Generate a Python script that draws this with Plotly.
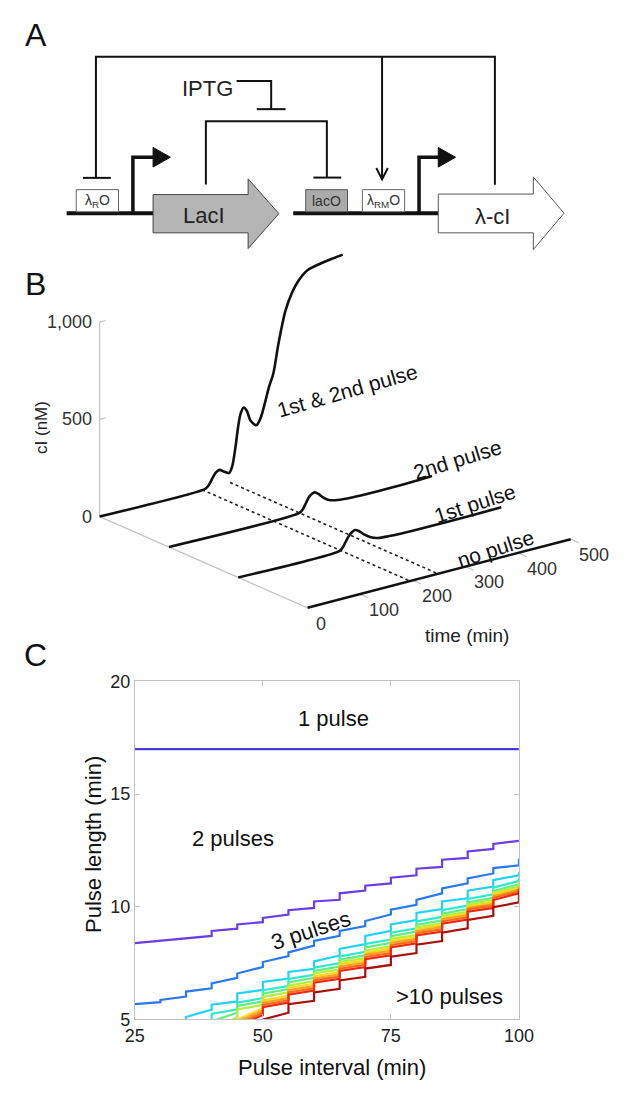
import plotly.graph_objects as go

W, H = 628, 1093
FONT = "Liberation Sans, Arial, Helvetica, sans-serif"

# ---------------- Panel B data (time in min, cI in nM) ----------------
b_labels = ["1st & 2nd pulse", "2nd pulse", "1st pulse", "no pulse"]
t_both = [0, 200, 205, 210, 215, 220, 228, 236, 246, 252, 258, 263, 268, 274, 280, 287, 298, 306,
          314, 322, 330, 340, 353, 365, 377, 395, 420, 445, 462]
c_both = [0, 0, 8, 25, 48, 68, 79, 65, 50, 80, 170, 270, 340, 367, 345, 290, 259, 290,
          360, 440, 500, 650, 807, 890, 943, 988, 1005, 1015, 1021]
t_second = [0, 248, 254, 260, 266, 272, 277, 284, 292, 302, 315, 330, 350, 380, 420, 460, 500]
c_second = [0, 0, 12, 40, 68, 82, 85, 72, 50, 30, 18, 12, 8, 6, 6, 8, 12]
t_first = [0, 192, 198, 204, 210, 216, 222, 230, 240, 252, 266, 285, 310, 350, 400, 450, 500]
c_first = [0, 0, 12, 38, 64, 80, 87, 75, 50, 28, 15, 10, 7, 5, 5, 6, 8]
t_none = [0, 500]
c_none = [0, 0]
pulse_times = [195, 248]
b_time_ticks = [0, 100, 200, 300, 400, 500]
b_ci_ticks = [0, 500, 1000]
b_ci_ticklabels = ["0", "500", "1,000"]

# ---------------- Panel C data: boundary lines (x: pulse interval, y: pulse length) ----------------
# each entry: (pulse interval, length before step, length after step)
c_line1 = [(25, 17.0, 17.0), (100, 17.0, 17.0)]
c_line2 = [(25, 8.39, 8.39), (40, 8.71, 8.93), (45, 9.03, 9.22), (50, 9.32, 9.51), (55, 9.66, 9.85),
           (60, 9.95, 10.24), (65, 10.31, 10.6), (70, 10.72, 10.94), (75, 11.04, 11.29),
           (80, 11.4, 11.69), (85, 11.77, 12.09), (90, 12.17, 12.46), (95, 12.57, 12.79),
           (100, 12.93, 12.93)]
c_line3 = [(25, 5.68, 5.68), (30, 5.77, 5.87), (35, 6.02, 6.24), (40, 6.38, 6.60), (45, 6.85, 7.04),
           (50, 7.33, 7.55), (55, 7.81, 7.98), (60, 8.28, 8.49), (65, 8.71, 8.93), (70, 9.15, 9.37),
           (75, 9.66, 9.87), (80, 10.09, 10.31), (85, 10.6, 10.82), (90, 11.04, 11.26),
           (95, 11.48, 11.72), (100, 11.84, 12.13)]
c_line4 = [(35, 5.0, 5.11), (40, 5.44, 5.66), (45, 5.80, 6.16), (50, 6.31, 6.67), (55, 6.82, 7.11),
           (60, 7.25, 7.58), (65, 7.84, 8.13), (70, 8.35, 8.71), (75, 8.93, 9.22), (80, 9.41, 9.73),
           (85, 9.90, 10.24), (90, 10.38, 10.72), (95, 10.90, 11.18), (100, 11.40, 11.55)]
c_line5 = [(40, 5.0, 5.25), (45, 5.45, 5.75), (50, 5.95, 6.3), (55, 6.48, 6.8), (60, 6.98, 7.3),
           (65, 7.5, 7.8), (70, 8.0, 8.35), (75, 8.55, 8.85), (80, 9.05, 9.35), (85, 9.55, 9.85),
           (90, 10.05, 10.35), (95, 10.55, 10.85), (100, 11.15, 11.3)]
c_line6 = [(41, 5.0, 5.0), (45, 5.3, 5.6), (50, 5.8, 6.15), (55, 6.35, 6.65), (60, 6.85, 7.15),
           (65, 7.35, 7.65), (70, 7.85, 8.2), (75, 8.4, 8.7), (80, 8.9, 9.2), (85, 9.4, 9.7),
           (90, 9.9, 10.2), (95, 10.4, 10.7), (100, 11.0, 11.2)]
c_line7 = [(44, 5.0, 5.0), (45, 5.1, 5.45), (50, 5.65, 6.0), (55, 6.2, 6.5), (60, 6.7, 7.05),
           (65, 7.22, 7.55), (70, 7.72, 8.05), (75, 8.25, 8.58), (80, 8.75, 9.08), (85, 9.28, 9.6),
           (90, 9.78, 10.1), (95, 10.3, 10.62), (100, 10.9, 11.1)]
c_line8 = [(45, 5.0, 5.0), (50, 5.5, 5.85), (55, 6.05, 6.4), (60, 6.58, 6.92), (65, 7.1, 7.45),
           (70, 7.62, 7.95), (75, 8.15, 8.48), (80, 8.65, 9.0), (85, 9.18, 9.5), (90, 9.7, 10.02),
           (95, 10.2, 10.55), (100, 10.82, 11.0)]
c_line9 = [(46, 5.0, 5.0), (50, 5.4, 5.75), (55, 5.95, 6.3), (60, 6.48, 6.82), (65, 7.0, 7.35),
           (70, 7.52, 7.87), (75, 8.05, 8.4), (80, 8.57, 8.92), (85, 9.1, 9.45), (90, 9.62, 9.95),
           (95, 10.12, 10.48), (100, 10.75, 10.9)]
c_line10 = [(47, 5.0, 5.0), (50, 5.3, 5.65), (55, 5.85, 6.2), (60, 6.38, 6.73), (65, 6.9, 7.25),
            (70, 7.43, 7.78), (75, 7.95, 8.3), (80, 8.48, 8.83), (85, 9.0, 9.35), (90, 9.53, 9.88),
            (95, 10.05, 10.4), (100, 10.68, 10.85)]
c_line11 = [(48, 5.0, 5.0), (50, 5.2, 5.55), (55, 5.75, 6.1), (60, 6.28, 6.63), (65, 6.8, 7.15),
            (70, 7.33, 7.68), (75, 7.85, 8.2), (80, 8.38, 8.73), (85, 8.9, 9.25), (90, 9.43, 9.78),
            (95, 9.95, 10.3), (100, 10.6, 10.8)]
c_line12 = [(50, 5.0, 5.0), (55, 5.3, 5.68), (60, 5.83, 6.2), (65, 6.36, 6.73), (70, 6.89, 7.26),
            (75, 7.42, 7.79), (80, 7.95, 8.32), (85, 8.48, 8.85), (90, 9.05, 9.42), (95, 9.6, 9.98),
            (100, 10.2, 10.7)]
c_x_ticks = [25, 50, 75, 100]
c_y_ticks = [5, 10, 15, 20]

c_lines = [c_line1, c_line2, c_line3, c_line4, c_line5, c_line6, c_line7, c_line8,
           c_line9, c_line10, c_line11, c_line12]
c_colors = ["#4a3adb", "#6a3de6", "#2a78ee", "#22d2f2", "#2eeacc", "#62ee80", "#b6ee3a",
            "#ffd820", "#ffa020", "#ff6a18", "#ee2a14", "#a81010"]

fig = go.Figure()

# ---------------- Panel C traces ----------------
for steps, col in zip(c_lines, c_colors):
    xs, ys = [], []
    for x, yb, ya in steps:
        xs += [x, x]
        ys += [yb, ya]
    fig.add_trace(go.Scatter(x=xs, y=ys, mode="lines", line=dict(color=col, width=2.2),
                             xaxis="x", yaxis="y", showlegend=False, hoverinfo="skip"))

# ---------------- Panel B: oblique projection onto pixel-space axis ----------------
B_O = (93.3, 516.0)
B_T = (0.548, -0.14)
B_S = (72.2, 31.0)
B_Z = 0.198


def proj(t, s, c):
    return (B_O[0] + t * B_T[0] + s * B_S[0], B_O[1] + t * B_T[1] + s * B_S[1] - c * B_Z)


AXC = "#c4c4c4"
# axis lines
zx0, zy0 = proj(0, 0, 0)
zx1, zy1 = proj(0, 0, b_ci_ticks[-1])
fig.add_trace(go.Scatter(x=[zx0, zx1], y=[zy0, zy1], mode="lines", line=dict(color=AXC, width=1.3),
                         xaxis="x2", yaxis="y2", showlegend=False, hoverinfo="skip"))
dx1, dy1 = proj(0, 3, 0)
fig.add_trace(go.Scatter(x=[zx0, dx1], y=[zy0, dy1], mode="lines", line=dict(color=AXC, width=1.3),
                         xaxis="x2", yaxis="y2", showlegend=False, hoverinfo="skip"))
# small ticks
for c in b_ci_ticks:
    a = proj(0, 0, c)
    b = proj(12, 0, c)
    fig.add_trace(go.Scatter(x=[a[0], b[0]], y=[a[1], b[1]], mode="lines", line=dict(color=AXC, width=1.2),
                             xaxis="x2", yaxis="y2", showlegend=False, hoverinfo="skip"))
for t in b_time_ticks[1:]:
    a = proj(t, 3, 0)
    b = proj(t, 3.12, 0)
    fig.add_trace(go.Scatter(x=[a[0], b[0]], y=[a[1], b[1]], mode="lines", line=dict(color=AXC, width=1.2),
                             xaxis="x2", yaxis="y2", showlegend=False, hoverinfo="skip"))

# dotted pulse guide lines
for tp in pulse_times:
    a = proj(tp, 0, 0)
    b = proj(tp, 3, 0)
    fig.add_trace(go.Scatter(x=[a[0], b[0]], y=[a[1], b[1]], mode="lines",
                             line=dict(color="#222", width=1.6, dash="3px,3px"),
                             xaxis="x2", yaxis="y2", showlegend=False, hoverinfo="skip"))

for s, (tt, cc) in enumerate([(t_both, c_both), (t_second, c_second), (t_first, c_first), (t_none, c_none)]):
    pts = [proj(t, s, c) for t, c in zip(tt, cc)]
    fig.add_trace(go.Scatter(x=[p[0] for p in pts], y=[p[1] for p in pts], mode="lines",
                             line=dict(color="#111", width=2.6, shape="spline", smoothing=0.8),
                             xaxis="x2", yaxis="y2", showlegend=False, hoverinfo="skip"))

ann = []


def text(x, y, s, size, angle=0, xanchor="center", color="#111", xshift=0, yshift=0):
    ann.append(dict(x=x, y=y, xref="x2", yref="y2", text=s, showarrow=False, textangle=angle,
                    xanchor=xanchor, yanchor="middle", xshift=xshift, yshift=yshift,
                    font=dict(family=FONT, size=size, color=color)))


for c, lab in zip(b_ci_ticks, b_ci_ticklabels):
    px, py = proj(0, 0, c)
    text(px - 6, py, lab, 18, xanchor="right", color="#333")
for t in b_time_ticks:
    px, py = proj(t, 3, 0)
    text(px + 7, py + 16, str(t), 18, xanchor="left", color="#333")

text(476, 637, "time (min)", 19, color="#222")
text(32, 425, "cI (nM)", 17, angle=-90, color="#222")
text(352, 388, b_labels[0], 21, angle=-16)
text(466, 458, b_labels[1], 21, angle=-17)
text(484, 503, b_labels[2], 21, angle=-18)
text(506, 549, b_labels[3], 21, angle=-18)

# panel letters
text(27, 25, "A", 32)
text(27, 279, "B", 32)
text(27, 657, "C", 32)

# panel C texts
text(337, 722, "1 pulse", 22)
text(232, 844, "2 pulses", 22)
text(313, 938, "3 pulses", 22, angle=-18)
text(458, 1005, ">10 pulses", 22)
text(335, 1077, "Pulse interval (min)", 22)
text(87, 850, "Pulse length (min)", 22, angle=-90)

# ---------------- Panel A diagram ----------------
shapes = []


def ln(x0, y0, x1, y1, w=2, col="#111"):
    shapes.append(dict(type="line", x0=x0, y0=y0, x1=x1, y1=y1, xref="x2", yref="y2",
                       line=dict(color=col, width=w)))


def path(d, w=2, col="#111", fill=None):
    sh = dict(type="path", path=d, xref="x2", yref="y2", line=dict(color=col, width=w))
    if fill:
        sh["fillcolor"] = fill
    shapes.append(sh)


# DNA
ln(59, 207, 152, 207, 4)
ln(295, 207, 448, 207, 4)
# operator boxes
shapes.append(dict(type="rect", x0=69, y0=183, x1=113, y1=205.5, xref="x2", yref="y2",
                   fillcolor="white", line=dict(color="#666", width=1)))
shapes.append(dict(type="rect", x0=308, y0=183, x1=351.5, y1=205.5, xref="x2", yref="y2",
                   fillcolor="#ababab", line=dict(color="#555", width=1)))
shapes.append(dict(type="rect", x0=367, y0=183, x1=411, y1=205.5, xref="x2", yref="y2",
                   fillcolor="white", line=dict(color="#666", width=1)))
# promoters
path("M128,207 L128,150 L151,150", 3.5)
path("M149,140 L167,150 L149,160 Z", 1, fill="#111")
path("M426,207 L426,150 L447,150", 3.5)
path("M446,140 L464,150 L446,160 Z", 1, fill="#111")
# gene arrows
path("M149,188 L248,188 L248,172 L280,207.5 L248,243 L248,227 L149,227 Z", 1, col="#444", fill="#b4b4b4")
path("M446,187.5 L545,187.5 L545,170 L577,207 L545,244 L545,227 L446,227 Z", 1, col="#555", fill="white")
# regulation lines
path("M89.5,171 L89.5,47.7 L505,47.7 L505,178", 2)
ln(76, 171, 105, 171, 2)
ln(387.5, 47.7, 387.5, 172, 2)
path("M381.5,161 L387.5,172.5 L393.5,161", 2)
path("M236,72.3 L272,72.3 L272,101", 2)
ln(257, 101, 287, 101, 2)
path("M204,177.7 L204,113.3 L330,113.3 L330,170.7", 2)
ln(316, 170.7, 345, 170.7, 2)

text(206, 80, "IPTG", 22, color="#222")
text(202, 209, "LacI", 22, color="#222")
text(502, 210, "λ-cI", 22, color="#222")
text(91, 195, "λ<sub>R</sub>O", 14, color="#333")
text(330, 195, "lacO", 14, color="#333")
text(389, 195, "λ<sub>RM</sub>O", 14, color="#333")

frame = "#c2c2c2"
fig.update_layout(
    width=W, height=H, margin=dict(l=0, r=0, t=0, b=0),
    paper_bgcolor="white", plot_bgcolor="rgba(0,0,0,0)",
    showlegend=False,
    xaxis=dict(domain=[130 / W, 530 / W], range=[25, 100], anchor="y", tickvals=c_x_ticks,
               showgrid=False, zeroline=False, showline=True, linecolor=frame, linewidth=1,
               mirror="ticks", ticks="inside", ticklen=5, tickcolor=frame,
               tickfont=dict(family=FONT, size=18, color="#222")),
    yaxis=dict(domain=[1 - 1028.3 / H, 1 - 684 / H], range=[5, 20], anchor="x", tickvals=c_y_ticks,
               showgrid=False, zeroline=False, showline=True, linecolor=frame, linewidth=1,
               mirror="ticks", ticks="inside", ticklen=5, tickcolor=frame,
               tickfont=dict(family=FONT, size=18, color="#222")),
    xaxis2=dict(domain=[0, 1], range=[0, W], anchor="y2", visible=False),
    yaxis2=dict(domain=[0, 1], range=[H, 0], anchor="x2", visible=False),
    annotations=ann, shapes=shapes,
)

fig.write_html("out.html")
